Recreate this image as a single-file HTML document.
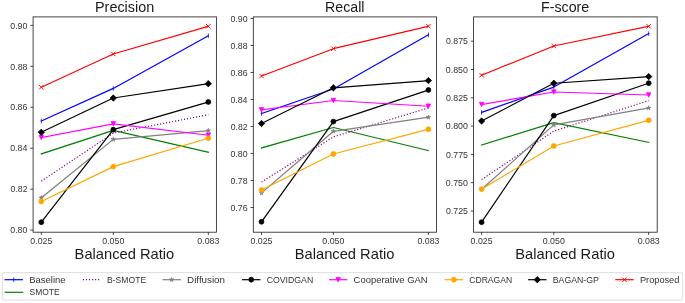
<!DOCTYPE html>
<html><head><meta charset="utf-8"><style>
html,body{margin:0;padding:0;background:#fff;width:685px;height:303px;overflow:hidden}
svg{display:block;will-change:transform}
text{font-family:"Liberation Sans",sans-serif}
</style></head><body>
<svg width="685" height="303" viewBox="0 0 685 303" font-family="'Liberation Sans', sans-serif">
<rect width="685" height="303" fill="#fff"/>
<path d="M41.30 121.00L113.30 88.40L208.30 35.70" fill="none" stroke="#0000ff" stroke-width="1.2" stroke-linejoin="round" stroke-linecap="square"/>
<path d="M41.30 118.75L41.30 123.25" stroke="#0000ff" stroke-width="0.77" fill="none"/>
<path d="M113.30 86.15L113.30 90.65" stroke="#0000ff" stroke-width="0.77" fill="none"/>
<path d="M208.30 33.45L208.30 37.95" stroke="#0000ff" stroke-width="0.77" fill="none"/>
<path d="M41.30 153.90L113.30 130.40L208.30 152.20" fill="none" stroke="#008000" stroke-width="1.2" stroke-linejoin="round" stroke-linecap="square"/>
<path d="M41.30 181.20L113.30 133.10L208.30 114.70" fill="none" stroke="#800080" stroke-width="1.2" stroke-dasharray="1.15 1.90" stroke-linecap="butt"/>
<path d="M41.30 197.80L113.30 139.40L208.30 130.60" fill="none" stroke="#808080" stroke-width="1.2" stroke-linejoin="round" stroke-linecap="square"/>
<path d="M41.30 195.55L40.79 197.10L39.16 197.10L40.48 198.07L39.98 199.62L41.30 198.66L42.62 199.62L42.12 198.07L43.44 197.10L41.81 197.10Z" fill="#808080" stroke="#808080" stroke-width="0.77" stroke-linejoin="miter"/>
<path d="M113.30 137.15L112.79 138.70L111.16 138.70L112.48 139.67L111.98 141.22L113.30 140.26L114.62 141.22L114.12 139.67L115.44 138.70L113.81 138.70Z" fill="#808080" stroke="#808080" stroke-width="0.77" stroke-linejoin="miter"/>
<path d="M208.30 128.35L207.79 129.90L206.16 129.90L207.48 130.87L206.98 132.42L208.30 131.46L209.62 132.42L209.12 130.87L210.44 129.90L208.81 129.90Z" fill="#808080" stroke="#808080" stroke-width="0.77" stroke-linejoin="miter"/>
<path d="M41.30 222.20L113.30 129.70L208.30 102.00" fill="none" stroke="#000000" stroke-width="1.2" stroke-linejoin="round" stroke-linecap="square"/>
<circle cx="41.30" cy="222.20" r="2.45" fill="#000000" stroke="#000000" stroke-width="0.77"/>
<circle cx="113.30" cy="129.70" r="2.45" fill="#000000" stroke="#000000" stroke-width="0.77"/>
<circle cx="208.30" cy="102.00" r="2.45" fill="#000000" stroke="#000000" stroke-width="0.77"/>
<path d="M41.30 137.50L113.30 123.80L208.30 135.20" fill="none" stroke="#ff00ff" stroke-width="1.2" stroke-linejoin="round" stroke-linecap="square"/>
<path d="M39.05 135.25L43.55 135.25L41.30 139.75Z" fill="#ff00ff" stroke="#ff00ff" stroke-width="0.77" stroke-linejoin="miter"/>
<path d="M111.05 121.55L115.55 121.55L113.30 126.05Z" fill="#ff00ff" stroke="#ff00ff" stroke-width="0.77" stroke-linejoin="miter"/>
<path d="M206.05 132.95L210.55 132.95L208.30 137.45Z" fill="#ff00ff" stroke="#ff00ff" stroke-width="0.77" stroke-linejoin="miter"/>
<path d="M41.30 201.50L113.30 166.60L208.30 138.20" fill="none" stroke="#ffa500" stroke-width="1.2" stroke-linejoin="round" stroke-linecap="square"/>
<circle cx="41.30" cy="201.50" r="2.45" fill="#ffa500" stroke="#ffa500" stroke-width="0.77"/>
<circle cx="113.30" cy="166.60" r="2.45" fill="#ffa500" stroke="#ffa500" stroke-width="0.77"/>
<circle cx="208.30" cy="138.20" r="2.45" fill="#ffa500" stroke="#ffa500" stroke-width="0.77"/>
<path d="M41.30 132.30L113.30 98.00L208.30 83.70" fill="none" stroke="#000000" stroke-width="1.2" stroke-linejoin="round" stroke-linecap="square"/>
<path d="M41.30 129.12L44.48 132.30L41.30 135.48L38.12 132.30Z" fill="#000000" stroke="#000000" stroke-width="0.77" stroke-linejoin="miter"/>
<path d="M113.30 94.82L116.48 98.00L113.30 101.18L110.12 98.00Z" fill="#000000" stroke="#000000" stroke-width="0.77" stroke-linejoin="miter"/>
<path d="M208.30 80.52L211.48 83.70L208.30 86.88L205.12 83.70Z" fill="#000000" stroke="#000000" stroke-width="0.77" stroke-linejoin="miter"/>
<path d="M41.30 87.20L113.30 54.00L208.30 26.30" fill="none" stroke="#ff0000" stroke-width="1.2" stroke-linejoin="round" stroke-linecap="square"/>
<path d="M39.05 84.95L43.55 89.45M39.05 89.45L43.55 84.95" stroke="#ff0000" stroke-width="0.92" fill="none"/>
<path d="M111.05 51.75L115.55 56.25M111.05 56.25L115.55 51.75" stroke="#ff0000" stroke-width="0.92" fill="none"/>
<path d="M206.05 24.05L210.55 28.55M206.05 28.55L210.55 24.05" stroke="#ff0000" stroke-width="0.92" fill="none"/>
<rect x="33.10" y="16.90" width="183.30" height="215.30" fill="none" stroke="#262626" stroke-width="0.85"/>
<path d="M41.30 232.20V234.95M113.30 232.20V234.95M208.30 232.20V234.95M33.10 230.10H30.35M33.10 189.16H30.35M33.10 148.22H30.35M33.10 107.28H30.35M33.10 66.34H30.35M33.10 25.40H30.35" stroke="#262626" stroke-width="0.85"/>
<text x="10.28" y="233.30" font-size="8.34" textLength="17.11" lengthAdjust="spacingAndGlyphs" fill="#333">0.80</text>
<text x="10.55" y="192.36" font-size="8.34" textLength="16.94" lengthAdjust="spacingAndGlyphs" fill="#333">0.82</text>
<text x="10.20" y="151.42" font-size="8.34" textLength="17.10" lengthAdjust="spacingAndGlyphs" fill="#333">0.84</text>
<text x="10.24" y="110.48" font-size="8.34" textLength="17.20" lengthAdjust="spacingAndGlyphs" fill="#333">0.86</text>
<text x="10.29" y="69.54" font-size="8.34" textLength="17.15" lengthAdjust="spacingAndGlyphs" fill="#333">0.88</text>
<text x="10.28" y="28.60" font-size="8.34" textLength="17.11" lengthAdjust="spacingAndGlyphs" fill="#333">0.90</text>
<text x="30.33" y="243.80" font-size="8.34" textLength="21.98" lengthAdjust="spacingAndGlyphs" fill="#333">0.025</text>
<text x="102.25" y="243.80" font-size="8.34" textLength="22.11" lengthAdjust="spacingAndGlyphs" fill="#333">0.050</text>
<text x="197.30" y="243.80" font-size="8.34" textLength="22.05" lengthAdjust="spacingAndGlyphs" fill="#333">0.083</text>
<text x="95.00" y="11.75" font-size="14.19" textLength="59.25" lengthAdjust="spacingAndGlyphs" fill="#1a1a1a">Precision</text>
<text x="74.63" y="259.40" font-size="14.14" textLength="99.66" lengthAdjust="spacingAndGlyphs" fill="#1a1a1a">Balanced Ratio</text>
<path d="M261.50 113.50L333.40 89.00L428.40 34.80" fill="none" stroke="#0000ff" stroke-width="1.2" stroke-linejoin="round" stroke-linecap="square"/>
<path d="M261.50 111.25L261.50 115.75" stroke="#0000ff" stroke-width="0.77" fill="none"/>
<path d="M333.40 86.75L333.40 91.25" stroke="#0000ff" stroke-width="0.77" fill="none"/>
<path d="M428.40 32.55L428.40 37.05" stroke="#0000ff" stroke-width="0.77" fill="none"/>
<path d="M261.50 147.90L333.40 127.50L428.40 150.60" fill="none" stroke="#008000" stroke-width="1.2" stroke-linejoin="round" stroke-linecap="square"/>
<path d="M261.50 182.10L333.40 136.90L428.40 107.90" fill="none" stroke="#800080" stroke-width="1.2" stroke-dasharray="1.15 1.90" stroke-linecap="butt"/>
<path d="M261.50 193.00L333.40 131.30L428.40 117.30" fill="none" stroke="#808080" stroke-width="1.2" stroke-linejoin="round" stroke-linecap="square"/>
<path d="M261.50 190.75L260.99 192.30L259.36 192.30L260.68 193.27L260.18 194.82L261.50 193.86L262.82 194.82L262.32 193.27L263.64 192.30L262.01 192.30Z" fill="#808080" stroke="#808080" stroke-width="0.77" stroke-linejoin="miter"/>
<path d="M333.40 129.05L332.89 130.60L331.26 130.60L332.58 131.57L332.08 133.12L333.40 132.16L334.72 133.12L334.22 131.57L335.54 130.60L333.91 130.60Z" fill="#808080" stroke="#808080" stroke-width="0.77" stroke-linejoin="miter"/>
<path d="M428.40 115.05L427.89 116.60L426.26 116.60L427.58 117.57L427.08 119.12L428.40 118.16L429.72 119.12L429.22 117.57L430.54 116.60L428.91 116.60Z" fill="#808080" stroke="#808080" stroke-width="0.77" stroke-linejoin="miter"/>
<path d="M261.50 221.80L333.40 121.60L428.40 90.00" fill="none" stroke="#000000" stroke-width="1.2" stroke-linejoin="round" stroke-linecap="square"/>
<circle cx="261.50" cy="221.80" r="2.45" fill="#000000" stroke="#000000" stroke-width="0.77"/>
<circle cx="333.40" cy="121.60" r="2.45" fill="#000000" stroke="#000000" stroke-width="0.77"/>
<circle cx="428.40" cy="90.00" r="2.45" fill="#000000" stroke="#000000" stroke-width="0.77"/>
<path d="M261.50 109.80L333.40 100.50L428.40 106.20" fill="none" stroke="#ff00ff" stroke-width="1.2" stroke-linejoin="round" stroke-linecap="square"/>
<path d="M259.25 107.55L263.75 107.55L261.50 112.05Z" fill="#ff00ff" stroke="#ff00ff" stroke-width="0.77" stroke-linejoin="miter"/>
<path d="M331.15 98.25L335.65 98.25L333.40 102.75Z" fill="#ff00ff" stroke="#ff00ff" stroke-width="0.77" stroke-linejoin="miter"/>
<path d="M426.15 103.95L430.65 103.95L428.40 108.45Z" fill="#ff00ff" stroke="#ff00ff" stroke-width="0.77" stroke-linejoin="miter"/>
<path d="M261.50 190.00L333.40 154.00L428.40 129.30" fill="none" stroke="#ffa500" stroke-width="1.2" stroke-linejoin="round" stroke-linecap="square"/>
<circle cx="261.50" cy="190.00" r="2.45" fill="#ffa500" stroke="#ffa500" stroke-width="0.77"/>
<circle cx="333.40" cy="154.00" r="2.45" fill="#ffa500" stroke="#ffa500" stroke-width="0.77"/>
<circle cx="428.40" cy="129.30" r="2.45" fill="#ffa500" stroke="#ffa500" stroke-width="0.77"/>
<path d="M261.50 123.50L333.40 87.80L428.40 80.60" fill="none" stroke="#000000" stroke-width="1.2" stroke-linejoin="round" stroke-linecap="square"/>
<path d="M261.50 120.32L264.68 123.50L261.50 126.68L258.32 123.50Z" fill="#000000" stroke="#000000" stroke-width="0.77" stroke-linejoin="miter"/>
<path d="M333.40 84.62L336.58 87.80L333.40 90.98L330.22 87.80Z" fill="#000000" stroke="#000000" stroke-width="0.77" stroke-linejoin="miter"/>
<path d="M428.40 77.42L431.58 80.60L428.40 83.78L425.22 80.60Z" fill="#000000" stroke="#000000" stroke-width="0.77" stroke-linejoin="miter"/>
<path d="M261.50 76.00L333.40 48.70L428.40 26.20" fill="none" stroke="#ff0000" stroke-width="1.2" stroke-linejoin="round" stroke-linecap="square"/>
<path d="M259.25 73.75L263.75 78.25M259.25 78.25L263.75 73.75" stroke="#ff0000" stroke-width="0.92" fill="none"/>
<path d="M331.15 46.45L335.65 50.95M331.15 50.95L335.65 46.45" stroke="#ff0000" stroke-width="0.92" fill="none"/>
<path d="M426.15 23.95L430.65 28.45M426.15 28.45L430.65 23.95" stroke="#ff0000" stroke-width="0.92" fill="none"/>
<rect x="253.30" y="16.90" width="183.20" height="215.30" fill="none" stroke="#262626" stroke-width="0.85"/>
<path d="M261.50 232.20V234.95M333.40 232.20V234.95M428.40 232.20V234.95M253.30 207.50H250.55M253.30 180.49H250.55M253.30 153.48H250.55M253.30 126.48H250.55M253.30 99.47H250.55M253.30 72.46H250.55M253.30 45.45H250.55M253.30 18.44H250.55" stroke="#262626" stroke-width="0.85"/>
<text x="230.44" y="210.70" font-size="8.34" textLength="17.20" lengthAdjust="spacingAndGlyphs" fill="#333">0.76</text>
<text x="230.49" y="183.69" font-size="8.34" textLength="17.15" lengthAdjust="spacingAndGlyphs" fill="#333">0.78</text>
<text x="230.48" y="156.68" font-size="8.34" textLength="17.11" lengthAdjust="spacingAndGlyphs" fill="#333">0.80</text>
<text x="230.75" y="129.68" font-size="8.34" textLength="16.94" lengthAdjust="spacingAndGlyphs" fill="#333">0.82</text>
<text x="230.40" y="102.67" font-size="8.34" textLength="17.10" lengthAdjust="spacingAndGlyphs" fill="#333">0.84</text>
<text x="230.44" y="75.66" font-size="8.34" textLength="17.20" lengthAdjust="spacingAndGlyphs" fill="#333">0.86</text>
<text x="230.49" y="48.65" font-size="8.34" textLength="17.15" lengthAdjust="spacingAndGlyphs" fill="#333">0.88</text>
<text x="230.48" y="21.64" font-size="8.34" textLength="17.11" lengthAdjust="spacingAndGlyphs" fill="#333">0.90</text>
<text x="250.53" y="243.80" font-size="8.34" textLength="21.98" lengthAdjust="spacingAndGlyphs" fill="#333">0.025</text>
<text x="322.35" y="243.80" font-size="8.34" textLength="22.11" lengthAdjust="spacingAndGlyphs" fill="#333">0.050</text>
<text x="417.40" y="243.80" font-size="8.34" textLength="22.05" lengthAdjust="spacingAndGlyphs" fill="#333">0.083</text>
<text x="325.10" y="11.75" font-size="14.19" textLength="39.38" lengthAdjust="spacingAndGlyphs" fill="#1a1a1a">Recall</text>
<text x="294.78" y="259.40" font-size="14.14" textLength="99.66" lengthAdjust="spacingAndGlyphs" fill="#1a1a1a">Balanced Ratio</text>
<path d="M481.60 112.40L553.80 87.10L648.70 33.60" fill="none" stroke="#0000ff" stroke-width="1.2" stroke-linejoin="round" stroke-linecap="square"/>
<path d="M481.60 110.15L481.60 114.65" stroke="#0000ff" stroke-width="0.77" fill="none"/>
<path d="M553.80 84.85L553.80 89.35" stroke="#0000ff" stroke-width="0.77" fill="none"/>
<path d="M648.70 31.35L648.70 35.85" stroke="#0000ff" stroke-width="0.77" fill="none"/>
<path d="M481.60 145.00L553.80 122.60L648.70 142.40" fill="none" stroke="#008000" stroke-width="1.2" stroke-linejoin="round" stroke-linecap="square"/>
<path d="M481.60 179.60L553.80 131.10L648.70 100.60" fill="none" stroke="#800080" stroke-width="1.2" stroke-dasharray="1.15 1.90" stroke-linecap="butt"/>
<path d="M481.60 189.30L553.80 124.90L648.70 108.00" fill="none" stroke="#808080" stroke-width="1.2" stroke-linejoin="round" stroke-linecap="square"/>
<path d="M481.60 187.05L481.09 188.60L479.46 188.60L480.78 189.57L480.28 191.12L481.60 190.16L482.92 191.12L482.42 189.57L483.74 188.60L482.11 188.60Z" fill="#808080" stroke="#808080" stroke-width="0.77" stroke-linejoin="miter"/>
<path d="M553.80 122.65L553.29 124.20L551.66 124.20L552.98 125.17L552.48 126.72L553.80 125.76L555.12 126.72L554.62 125.17L555.94 124.20L554.31 124.20Z" fill="#808080" stroke="#808080" stroke-width="0.77" stroke-linejoin="miter"/>
<path d="M648.70 105.75L648.19 107.30L646.56 107.30L647.88 108.27L647.38 109.82L648.70 108.86L650.02 109.82L649.52 108.27L650.84 107.30L649.21 107.30Z" fill="#808080" stroke="#808080" stroke-width="0.77" stroke-linejoin="miter"/>
<path d="M481.60 222.20L553.80 115.60L648.70 83.20" fill="none" stroke="#000000" stroke-width="1.2" stroke-linejoin="round" stroke-linecap="square"/>
<circle cx="481.60" cy="222.20" r="2.45" fill="#000000" stroke="#000000" stroke-width="0.77"/>
<circle cx="553.80" cy="115.60" r="2.45" fill="#000000" stroke="#000000" stroke-width="0.77"/>
<circle cx="648.70" cy="83.20" r="2.45" fill="#000000" stroke="#000000" stroke-width="0.77"/>
<path d="M481.60 104.50L553.80 92.00L648.70 95.00" fill="none" stroke="#ff00ff" stroke-width="1.2" stroke-linejoin="round" stroke-linecap="square"/>
<path d="M479.35 102.25L483.85 102.25L481.60 106.75Z" fill="#ff00ff" stroke="#ff00ff" stroke-width="0.77" stroke-linejoin="miter"/>
<path d="M551.55 89.75L556.05 89.75L553.80 94.25Z" fill="#ff00ff" stroke="#ff00ff" stroke-width="0.77" stroke-linejoin="miter"/>
<path d="M646.45 92.75L650.95 92.75L648.70 97.25Z" fill="#ff00ff" stroke="#ff00ff" stroke-width="0.77" stroke-linejoin="miter"/>
<path d="M481.60 189.10L553.80 146.00L648.70 120.30" fill="none" stroke="#ffa500" stroke-width="1.2" stroke-linejoin="round" stroke-linecap="square"/>
<circle cx="481.60" cy="189.10" r="2.45" fill="#ffa500" stroke="#ffa500" stroke-width="0.77"/>
<circle cx="553.80" cy="146.00" r="2.45" fill="#ffa500" stroke="#ffa500" stroke-width="0.77"/>
<circle cx="648.70" cy="120.30" r="2.45" fill="#ffa500" stroke="#ffa500" stroke-width="0.77"/>
<path d="M481.60 121.00L553.80 83.25L648.70 76.60" fill="none" stroke="#000000" stroke-width="1.2" stroke-linejoin="round" stroke-linecap="square"/>
<path d="M481.60 117.82L484.78 121.00L481.60 124.18L478.42 121.00Z" fill="#000000" stroke="#000000" stroke-width="0.77" stroke-linejoin="miter"/>
<path d="M553.80 80.07L556.98 83.25L553.80 86.43L550.62 83.25Z" fill="#000000" stroke="#000000" stroke-width="0.77" stroke-linejoin="miter"/>
<path d="M648.70 73.42L651.88 76.60L648.70 79.78L645.52 76.60Z" fill="#000000" stroke="#000000" stroke-width="0.77" stroke-linejoin="miter"/>
<path d="M481.60 75.20L553.80 46.00L648.70 26.30" fill="none" stroke="#ff0000" stroke-width="1.2" stroke-linejoin="round" stroke-linecap="square"/>
<path d="M479.35 72.95L483.85 77.45M479.35 77.45L483.85 72.95" stroke="#ff0000" stroke-width="0.92" fill="none"/>
<path d="M551.55 43.75L556.05 48.25M551.55 48.25L556.05 43.75" stroke="#ff0000" stroke-width="0.92" fill="none"/>
<path d="M646.45 24.05L650.95 28.55M646.45 28.55L650.95 24.05" stroke="#ff0000" stroke-width="0.92" fill="none"/>
<rect x="473.60" y="16.90" width="183.60" height="215.30" fill="none" stroke="#262626" stroke-width="0.85"/>
<path d="M481.60 232.20V234.95M553.80 232.20V234.95M648.70 232.20V234.95M473.60 211.00H470.85M473.60 182.70H470.85M473.60 154.40H470.85M473.60 126.10H470.85M473.60 97.80H470.85M473.60 69.50H470.85M473.60 41.20H470.85" stroke="#262626" stroke-width="0.85"/>
<text x="445.94" y="214.20" font-size="8.34" textLength="21.98" lengthAdjust="spacingAndGlyphs" fill="#333">0.725</text>
<text x="445.78" y="185.90" font-size="8.34" textLength="22.11" lengthAdjust="spacingAndGlyphs" fill="#333">0.750</text>
<text x="445.94" y="157.60" font-size="8.34" textLength="21.98" lengthAdjust="spacingAndGlyphs" fill="#333">0.775</text>
<text x="445.78" y="129.30" font-size="8.34" textLength="22.11" lengthAdjust="spacingAndGlyphs" fill="#333">0.800</text>
<text x="445.94" y="101.00" font-size="8.34" textLength="21.98" lengthAdjust="spacingAndGlyphs" fill="#333">0.825</text>
<text x="445.78" y="72.70" font-size="8.34" textLength="22.11" lengthAdjust="spacingAndGlyphs" fill="#333">0.850</text>
<text x="445.94" y="44.40" font-size="8.34" textLength="21.98" lengthAdjust="spacingAndGlyphs" fill="#333">0.875</text>
<text x="470.63" y="243.80" font-size="8.34" textLength="21.98" lengthAdjust="spacingAndGlyphs" fill="#333">0.025</text>
<text x="542.75" y="243.80" font-size="8.34" textLength="22.11" lengthAdjust="spacingAndGlyphs" fill="#333">0.050</text>
<text x="637.70" y="243.80" font-size="8.34" textLength="22.05" lengthAdjust="spacingAndGlyphs" fill="#333">0.083</text>
<text x="541.06" y="11.75" font-size="14.19" textLength="48.13" lengthAdjust="spacingAndGlyphs" fill="#1a1a1a">F-score</text>
<text x="515.28" y="259.40" font-size="14.14" textLength="99.66" lengthAdjust="spacingAndGlyphs" fill="#1a1a1a">Balanced Ratio</text>
<rect x="2.4" y="272.6" width="680.2" height="27.6" rx="1.7" ry="1.7" fill="#fff" fill-opacity="0.8" stroke="#cccccc" stroke-width="0.63"/>
<path d="M5.11 279.70L22.35 279.70" fill="none" stroke="#0000ff" stroke-width="1.2" stroke-linejoin="round" stroke-linecap="square"/>
<path d="M13.73 277.45L13.73 281.95" stroke="#0000ff" stroke-width="0.77" fill="none"/>
<text x="29.17" y="282.80" font-size="9.16" textLength="36.43" lengthAdjust="spacingAndGlyphs" fill="#333">Baseline</text>
<path d="M5.38 292.30L22.62 292.30" fill="none" stroke="#008000" stroke-width="1.2" stroke-linejoin="round" stroke-linecap="square"/>
<text x="29.56" y="295.20" font-size="9.16" textLength="30.05" lengthAdjust="spacingAndGlyphs" fill="#333">SMOTE</text>
<path d="M82.86 279.70L100.10 279.70" fill="none" stroke="#800080" stroke-width="1.2" stroke-dasharray="1.15 1.90" stroke-linecap="butt"/>
<text x="107.00" y="282.80" font-size="9.16" textLength="39.11" lengthAdjust="spacingAndGlyphs" fill="#333">B-SMOTE</text>
<path d="M163.06 279.70L180.30 279.70" fill="none" stroke="#808080" stroke-width="1.2" stroke-linejoin="round" stroke-linecap="square"/>
<path d="M171.68 277.45L171.17 279.00L169.54 279.00L170.86 279.97L170.35 281.52L171.68 280.56L173.00 281.52L172.49 279.97L173.82 279.00L172.18 279.00Z" fill="#808080" stroke="#808080" stroke-width="0.77" stroke-linejoin="miter"/>
<text x="187.10" y="282.80" font-size="9.16" textLength="37.93" lengthAdjust="spacingAndGlyphs" fill="#333">Diffusion</text>
<path d="M242.62 279.70L259.86 279.70" fill="none" stroke="#000000" stroke-width="1.2" stroke-linejoin="round" stroke-linecap="square"/>
<circle cx="251.24" cy="279.70" r="2.45" fill="#000000" stroke="#000000" stroke-width="0.77"/>
<text x="266.66" y="282.80" font-size="9.16" textLength="46.58" lengthAdjust="spacingAndGlyphs" fill="#333">COVIDGAN</text>
<path d="M329.62 279.70L346.86 279.70" fill="none" stroke="#ff00ff" stroke-width="1.2" stroke-linejoin="round" stroke-linecap="square"/>
<path d="M335.99 277.45L340.49 277.45L338.24 281.95Z" fill="#ff00ff" stroke="#ff00ff" stroke-width="0.77" stroke-linejoin="miter"/>
<text x="353.63" y="282.80" font-size="9.16" textLength="74.04" lengthAdjust="spacingAndGlyphs" fill="#333">Cooperative GAN</text>
<path d="M445.22 279.70L462.46 279.70" fill="none" stroke="#ffa500" stroke-width="1.2" stroke-linejoin="round" stroke-linecap="square"/>
<circle cx="453.84" cy="279.70" r="2.45" fill="#ffa500" stroke="#ffa500" stroke-width="0.77"/>
<text x="469.27" y="282.80" font-size="9.16" textLength="42.87" lengthAdjust="spacingAndGlyphs" fill="#333">CDRAGAN</text>
<path d="M528.66 279.70L545.90 279.70" fill="none" stroke="#000000" stroke-width="1.2" stroke-linejoin="round" stroke-linecap="square"/>
<path d="M537.28 276.52L540.46 279.70L537.28 282.88L534.10 279.70Z" fill="#000000" stroke="#000000" stroke-width="0.77" stroke-linejoin="miter"/>
<text x="552.78" y="282.80" font-size="9.16" textLength="46.03" lengthAdjust="spacingAndGlyphs" fill="#333">BAGAN-GP</text>
<path d="M615.86 279.70L633.10 279.70" fill="none" stroke="#ff0000" stroke-width="1.2" stroke-linejoin="round" stroke-linecap="square"/>
<path d="M622.23 277.45L626.73 281.95M622.23 281.95L626.73 277.45" stroke="#ff0000" stroke-width="0.92" fill="none"/>
<text x="639.94" y="282.80" font-size="9.16" textLength="39.42" lengthAdjust="spacingAndGlyphs" fill="#333">Proposed</text>
</svg>
</body></html>
